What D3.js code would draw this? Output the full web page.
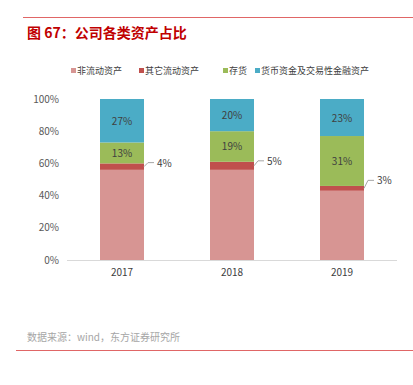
<!DOCTYPE html>
<html>
  <head>
    <meta charset="utf-8">
    <title>公司各类资产占比</title>
    <script src="https://d3js.org/d3.v7.min.js"></script>
    <style>
      body { margin: 0; background: #fff; }
      text { font-family: "Noto Sans CJK SC", "Noto Sans", sans-serif; }
    </style>
  </head>
  <body>
  <script type="text/javascript">
    var years = ["2017", "2018", "2019"];
    var seriesNames = ["非流动资产", "其它流动资产", "存货", "货币资金及交易性金融资产"];
    var nonCurrent = [56, 56, 43];
    var otherCurrent = [4, 5, 3];
    var inventory = [13, 19, 31];
    var cash = [27, 20, 23];
    var yTicks = [0, 20, 40, 60, 80, 100];
    var colors = ["#d79593", "#c0504d", "#9bbb59", "#4bacc6"];

    var width = 413, height = 385;
    var svg = d3.select("body").append("svg")
      .attr("width", width)
      .attr("height", height);

    // header line + title
    svg.append("line")
      .attr("x1", 23).attr("x2", 413).attr("y1", 17.5).attr("y2", 17.5)
      .attr("stroke", "#e06666").attr("stroke-width", 1);
    svg.append("text")
      .attr("x", 27).attr("y", 38)
      .attr("fill", "#c00000")
      .style("font-size", "14px").style("font-weight", "bold")
      .text("图 67：公司各类资产占比");

    var rows = years.map(function(y, i){
      return { year: y, a: nonCurrent[i], b: otherCurrent[i], c: inventory[i], d: cash[i] };
    });
    var keys = ["a", "b", "c", "d"];
    var stacked = d3.stack().keys(keys)(rows);

    var x = d3.scaleBand().domain(years).range([67, 397]).paddingInner(0.6).paddingOuter(0.3);
    var y = d3.scaleLinear().domain([0, 100]).range([260, 99]);

    // y axis labels
    svg.selectAll(".ytick")
      .data(yTicks)
      .enter().append("text")
        .attr("x", 59)
        .attr("y", function(d){ return y(d) + 3.5; })
        .attr("text-anchor", "end")
        .attr("fill", "#595959")
        .style("font-size", "10px")
        .text(function(d){ return d + "%"; });

    // bars
    var layers = svg.selectAll(".layer")
      .data(stacked)
      .enter().append("g")
        .attr("fill", function(d, i){ return colors[i]; });

    layers.selectAll("rect")
      .data(function(d){ return d; })
      .enter().append("rect")
        .attr("x", function(d){ return x(d.data.year); })
        .attr("width", x.bandwidth())
        .attr("y", function(d){ return y(d[1]); })
        .attr("height", function(d){ return y(d[0]) - y(d[1]); });

    // x axis
    svg.append("line")
      .attr("x1", 67).attr("x2", 397).attr("y1", 260.5).attr("y2", 260.5)
      .attr("stroke", "#d9d9d9").attr("stroke-width", 1);
    svg.selectAll(".xlab")
      .data(years)
      .enter().append("text")
        .attr("x", function(d){ return x(d) + x.bandwidth() / 2; })
        .attr("y", 276)
        .attr("text-anchor", "middle")
        .attr("fill", "#404040")
        .style("font-size", "10px")
        .text(function(d){ return d; });

    // labels inside bars (inventory and cash)
    [2, 3].forEach(function(k){
      svg.selectAll(".in" + k)
        .data(stacked[k])
        .enter().append("text")
          .attr("x", function(d){ return x(d.data.year) + x.bandwidth() / 2; })
          .attr("y", function(d){ return (y(d[0]) + y(d[1])) / 2 + 4; })
          .attr("text-anchor", "middle")
          .attr("fill", "#404040")
          .style("font-size", "10px")
          .text(function(d){ return (d[1] - d[0]) + "%"; });
    });

    // leader labels for other current assets
    var rise = [4, 5, 8];
    stacked[1].forEach(function(d, i){
      var x0 = x(d.data.year) + x.bandwidth();
      var ym = (y(d[0]) + y(d[1])) / 2;
      var yl = ym - rise[i];
      svg.append("polyline")
        .attr("points", [[x0, ym], [x0 + 4, yl], [x0 + 10, yl]].map(function(p){ return p.join(","); }).join(" "))
        .attr("fill", "none")
        .attr("stroke", "#a6a6a6").attr("stroke-width", 1);
      svg.append("text")
        .attr("x", x0 + 13)
        .attr("y", yl + 4)
        .attr("fill", "#404040")
        .style("font-size", "10px")
        .text((d[1] - d[0]) + "%");
    });

    // legend
    var legendX = [71, 139, 223, 255];
    var legend = svg.selectAll(".legend")
      .data(seriesNames)
      .enter().append("g")
        .attr("transform", function(d, i){ return "translate(" + legendX[i] + ",71)"; });
    legend.append("rect")
      .attr("x", 0).attr("y", -3).attr("width", 5).attr("height", 5)
      .attr("fill", function(d, i){ return colors[i]; });
    legend.append("text")
      .attr("x", 6).attr("y", 3)
      .attr("fill", "#404040")
      .style("font-size", "9px")
      .text(function(d){ return d; });

    // source + footer line
    svg.append("text")
      .attr("x", 27).attr("y", 341)
      .attr("fill", "#a6a6a6")
      .style("font-size", "10px")
      .text("数据来源：wind，东方证券研究所");
    svg.append("line")
      .attr("x1", 16).attr("x2", 413).attr("y1", 350.5).attr("y2", 350.5)
      .attr("stroke", "#e06666").attr("stroke-width", 1);
  </script>
  </body>
</html>
